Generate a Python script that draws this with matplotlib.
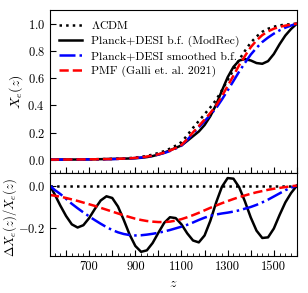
import matplotlib
matplotlib.use("Agg")
import matplotlib.pyplot as plt
import numpy as np
from matplotlib.ticker import MultipleLocator, FuncFormatter

plt.rcParams["font.family"] = "serif"
plt.rcParams["font.serif"] = ["cmr10", "DejaVu Serif"]
plt.rcParams["mathtext.fontset"] = "cm"
plt.rcParams["axes.formatter.use_mathtext"] = True
plt.rcParams["font.size"] = 9

# redshift grid
z = np.array([530, 550, 575, 600, 625, 650, 675, 700, 725, 750, 775, 800,
              825, 850, 875, 900, 925, 950, 975, 1000, 1025, 1050, 1075,
              1100, 1125, 1150, 1175, 1200, 1225, 1250, 1275, 1300, 1325,
              1350, 1375, 1400, 1425, 1450, 1475, 1500, 1525, 1550, 1575,
              1600])

# free electron fraction, LCDM
xe_lcdm = np.array([0.0015, 0.0017, 0.002, 0.0023, 0.0027, 0.003, 0.0035,
                    0.004, 0.0046, 0.0053, 0.006, 0.007, 0.0085, 0.0105,
                    0.013, 0.017, 0.022, 0.029, 0.038, 0.05, 0.064, 0.082,
                    0.104, 0.13, 0.18, 0.235, 0.285, 0.335, 0.385, 0.44,
                    0.51, 0.585, 0.66, 0.735, 0.80, 0.86, 0.905, 0.94,
                    0.962, 0.977, 0.987, 0.992, 0.996, 1.0])

# relative differences wrt LCDM
d_modrec = np.array([0.0, -0.04, -0.095, -0.145, -0.185, -0.20, -0.189,
                     -0.155, -0.111, -0.071, -0.051, -0.059, -0.100, -0.164,
                     -0.233, -0.288, -0.316, -0.309, -0.274, -0.225, -0.178,
                     -0.151, -0.155, -0.185, -0.228, -0.262, -0.271, -0.238,
                     -0.168, -0.081, -0.006, 0.036, 0.033, -0.008, -0.076,
                     -0.152, -0.215, -0.250, -0.247, -0.205, -0.14, -0.08,
                     -0.035, 0.0])

d_smooth = np.array([0.0, -0.02, -0.04, -0.063, -0.087, -0.108, -0.128,
                     -0.147, -0.165, -0.182, -0.198, -0.212, -0.223, -0.231,
                     -0.236, -0.238, -0.237, -0.234, -0.23, -0.225, -0.219,
                     -0.212, -0.204, -0.196, -0.187, -0.176, -0.164, -0.153,
                     -0.144, -0.138, -0.133, -0.129, -0.124, -0.118, -0.11,
                     -0.102, -0.092, -0.08, -0.067, -0.052, -0.037, -0.022,
                     -0.01, 0.0])

d_pmf = np.array([-0.045, -0.048, -0.053, -0.059, -0.066, -0.073, -0.081,
                  -0.089, -0.097, -0.106, -0.115, -0.124, -0.133, -0.142,
                  -0.150, -0.158, -0.164, -0.169, -0.172, -0.174, -0.174,
                  -0.172, -0.167, -0.160, -0.151, -0.141, -0.130, -0.118,
                  -0.106, -0.095, -0.084, -0.074, -0.064, -0.055, -0.047,
                  -0.039, -0.032, -0.026, -0.020, -0.015, -0.011, -0.007,
                  -0.003, 0.0])

labels = [r"$\Lambda$CDM", "Planck+DESI b.f. (ModRec)",
          "Planck+DESI smoothed b.f.", "PMF (Galli et. al. 2021)"]

fig = plt.figure(figsize=(3.08, 2.93), dpi=100)
ax1 = fig.add_axes([0.162, 0.408, 0.802, 0.558])
ax2 = fig.add_axes([0.162, 0.127, 0.802, 0.281], sharex=ax1)

lw = 1.8
ax1.plot(z, xe_lcdm, "k:", lw=lw, label=labels[0])
ax1.plot(z, xe_lcdm * (1 + d_modrec), "k-", lw=lw, label=labels[1])
ax1.plot(z, xe_lcdm * (1 + d_smooth), "b-.", lw=lw, label=labels[2])
ax1.plot(z, xe_lcdm * (1 + d_pmf), "r--", lw=lw, label=labels[3])

ax2.plot(z, np.zeros_like(z, dtype=float), "k:", lw=lw)
ax2.plot(z, d_modrec, "k-", lw=lw)
ax2.plot(z, d_smooth, "b-.", lw=lw)
ax2.plot(z, d_pmf, "r--", lw=lw)

ax1.set_xlim(530, 1600)
ax1.set_ylim(-0.1, 1.1)
ax2.set_ylim(-0.335, 0.058)

ax1.set_ylabel(r"$X_e(z)$", fontsize=10)
ax2.set_ylabel(r"$\Delta X_e(z)/X_e(z)$", fontsize=9)
ax2.set_xlabel(r"$z$", fontsize=10)
ax1.yaxis.set_label_coords(-0.10, 0.5)
ax2.yaxis.set_label_coords(-0.125, 0.47)

ax1.yaxis.set_major_locator(MultipleLocator(0.2))
ax2.yaxis.set_major_locator(MultipleLocator(0.2))
ax2.xaxis.set_major_locator(MultipleLocator(100))
ax2.xaxis.set_minor_locator(MultipleLocator(25))
ax2.xaxis.set_major_formatter(
    FuncFormatter(lambda v, p: "%d" % v if int(round(v)) % 200 == 100 else ""))
plt.setp(ax1.get_xticklabels(), visible=False)

for ax in (ax1, ax2):
    ax.tick_params(which="both", direction="in")
    ax.tick_params(which="major", length=4)
    ax.tick_params(which="minor", length=2)

ax1.legend(loc="upper left", frameon=False, fontsize=8.5, handlelength=1.9,
           labelspacing=0.36, borderaxespad=0.4)

fig.savefig("out.png", dpi=100)
